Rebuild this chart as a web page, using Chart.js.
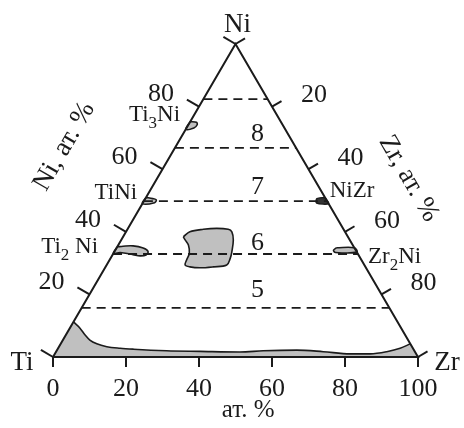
<!DOCTYPE html>
<html>
<head>
<meta charset="utf-8">
<script src="https://cdn.jsdelivr.net/npm/chart.js@4"></script>
<style>
  html, body { margin: 0; padding: 0; background: #fff; }
</style>
</head>
<body>
<canvas id="diagram" width="464" height="428"></canvas>
<script>
  // Ti–Ni–Zr section, every point is a composition [Ni, Zr] in at.%
  const vertexNames = ['Ti', 'Zr', 'Ni'];
  const vertexComp = [[0, 0], [0, 100], [100, 0]];
  const edgeTicks = [0, 20, 40, 60, 80, 100];
  const edgeLabels = [20, 40, 60, 80];
  const bottomTicks = [0, 20, 40, 60, 80, 100];

  const tieLineNi = [82.4, 66.8, 49.8, 32.9, 15.7];
  const regionNames = ['8', '7', '6', '5'];
  const regionNi = [71.2, 54.3, 36.4, 21.4];
  const regionZr = [20.4, 28.9, 37.8, 45.3];

  // (Ti,Zr) solid solution boundary along the Ni-poor side
  const solidSolution = [
    [11.2, 0], [9.2, 2.8], [7.0, 5.3], [5.4, 7.4], [4.2, 9.9], [3.3, 13.1],
    [2.8, 17.0], [2.5, 20.8], [2.0, 30.1], [1.8, 39.4], [1.6, 50.4], [2.0, 56.6],
    [2.2, 65.7], [1.7, 73.2], [1.0, 80.9], [1.0, 86.4], [1.7, 90.6], [2.8, 93.7],
    [4.2, 95.8]
  ];
  const ternaryPhase = [
    [38.4, 16.5], [40.0, 17.5], [40.8, 20.8], [41.1, 24.3], [40.8, 27.6], [40.0, 29.0],
    [37.4, 30.7], [33.6, 32.2], [31.5, 32.8], [29.4, 32.9], [28.8, 29.5], [28.5, 26.0],
    [28.8, 23.1], [29.4, 21.5], [31.0, 21.1], [33.1, 20.8], [35.8, 19.2], [37.4, 17.5],
    [38.4, 16.5]
  ];
  const ti2niPhase = [
    [35.2, 0], [35.4, 1.5], [35.5, 4.2], [34.8, 7.3], [33.7, 9.2], [32.6, 9.2],
    [32.3, 7.7], [32.7, 5.6], [33.4, 1.7], [33.0, 0], [35.2, 0]
  ];
  const zr2niPhase = [
    [34.9, 60.2], [34.9, 65.1], [33.5, 66.5], [33.4, 60.7], [34.1, 59.8], [34.9, 60.2]
  ];
  const ti3niPhase = [[75.2, 0], [75.0, 1.8], [74.2, 2.4], [73.2, 2.0], [72.8, 0], [75.2, 0]];
  const tiniPhase = [[51.0, 0], [50.6, 2.0], [50.2, 3.2], [49.3, 3.2], [49.0, 0], [51.0, 0]];
  const nizrPhase = [[51.0, 49.0], [50.6, 47.0], [49.2, 47.6], [49.0, 51.0], [51.0, 49.0]];

  const compounds = [
    { parts: ['Ti', '3', 'Ni'], at: [74, 0], dx: -8, dy: -4, align: 'right' },
    { parts: ['TiNi'], at: [50, 0], dx: -7, dy: -1.5, align: 'right' },
    { parts: ['Ti', '2', ' Ni'], at: [34, 0], dx: -17, dy: 2.5, align: 'right' },
    { parts: ['NiZr'], at: [50, 50], dx: 3, dy: -3.5, align: 'left' },
    { parts: ['Zr', '2', 'Ni'], at: [34, 66], dx: 12, dy: 12, align: 'left' }
  ];

  const xy = ([ni, zr]) => ({ x: zr + ni / 2, y: ni });
  const ink = '#1b1b1b';
  const grey = '#c0c0c0';
  const serif = '"Liberation Serif", "DejaVu Serif", serif';

  const datasets = [];
  datasets.push({
    data: [vertexComp[0], vertexComp[1], vertexComp[2], vertexComp[0]].map(xy),
    borderColor: ink, borderWidth: 2, fill: false
  });
  tieLineNi.forEach(ni => {
    datasets.push({
      data: [xy([ni, 0]), xy([ni, 100 - ni])],
      borderColor: ink, borderWidth: 1.8, borderDash: [9, 6], fill: false
    });
  });
  [ti3niPhase, tiniPhase, ti2niPhase, ternaryPhase, zr2niPhase].forEach(shape => {
    datasets.push({
      data: shape.map(xy), borderColor: ink, borderWidth: 1.6,
      backgroundColor: grey, fill: 'shape', tension: 0.35
    });
  });
  datasets.push({
    data: nizrPhase.map(xy), borderColor: ink, borderWidth: 1.4,
    backgroundColor: '#333', fill: 'shape', tension: 0.3
  });
  datasets.push({
    data: solidSolution.map(xy), borderColor: ink, borderWidth: 1.6,
    backgroundColor: grey, fill: 'origin', cubicInterpolationMode: 'monotone'
  });
  // corners between the triangle vertices and the ends of the boundary
  const ss = solidSolution.map(xy);
  const n = ss.length;
  datasets.push({
    data: [xy(vertexComp[0]), ss[0], { x: ss[1].x, y: 0 }, xy(vertexComp[0])],
    borderWidth: 0, backgroundColor: grey, fill: 'shape'
  });
  datasets.push({
    data: [{ x: ss[n - 2].x, y: 0 }, ss[n - 1], xy(vertexComp[1]), { x: ss[n - 2].x, y: 0 }],
    borderWidth: 0, backgroundColor: grey, fill: 'shape'
  });
  datasets.forEach(d => { d.showLine = true; d.pointRadius = 0; d.clip = false; });

  function drawParts(ctx, parts, x, y, align) {
    const big = '23px ' + serif, small = '17px ' + serif;
    const widths = parts.map((p, i) => {
      ctx.font = i === 1 ? small : big;
      return ctx.measureText(p).width;
    });
    const total = widths.reduce((a, b) => a + b, 0);
    let cx = align === 'right' ? x - total : x;
    parts.forEach((p, i) => {
      ctx.font = i === 1 ? small : big;
      ctx.fillText(p, cx, i === 1 ? y + 7 : y);
      cx += widths[i];
    });
  }

  const ternaryDecor = {
    id: 'ternaryDecor',
    afterDatasetsDraw(chart) {
      const { ctx, scales: { x, y } } = chart;
      const P = (ni, zr) => [x.getPixelForValue(zr + ni / 2), y.getPixelForValue(ni)];
      const [tix, tiy] = P(0, 0), [zrx, zry] = P(0, 100), [nix, niy] = P(100, 0);
      let lx = nix - tix, ly = niy - tiy, L = Math.hypot(lx, ly);
      const nl = [ly / L, -lx / L];
      lx = nix - zrx; ly = niy - zry; L = Math.hypot(lx, ly);
      const nr = [-ly / L, lx / L];

      ctx.save();
      ctx.strokeStyle = ink;
      ctx.fillStyle = ink;
      ctx.lineWidth = 2;
      ctx.textAlign = 'center';
      ctx.textBaseline = 'middle';
      ctx.font = '26px ' + serif;

      // Ni axis on the left edge, Zr axis on the right edge
      edgeTicks.forEach(t => {
        let [px, py] = P(t, 0);
        ctx.beginPath(); ctx.moveTo(px, py); ctx.lineTo(px + nl[0] * 14, py + nl[1] * 14); ctx.stroke();
        if (edgeLabels.includes(t)) ctx.fillText(String(t), px - 38, py - 12);
        [px, py] = P(100 - t, t);
        ctx.beginPath(); ctx.moveTo(px, py); ctx.lineTo(px + nr[0] * 11, py + nr[1] * 11); ctx.stroke();
        if (edgeLabels.includes(t)) ctx.fillText(String(t), px + 42, py - 11);
      });

      // region numbers
      regionNames.forEach((n, i) => {
        const [px, py] = P(regionNi[i], regionZr[i]);
        ctx.fillText(n, px, py);
      });

      // pure components
      ctx.font = '27px ' + serif;
      ctx.fillText(vertexNames[0], tix - 31, tiy + 6);
      ctx.fillText(vertexNames[1], zrx + 29, zry + 6);
      ctx.fillText(vertexNames[2], nix + 2, niy - 19);

      // axis names
      ctx.save();
      const [lmx, lmy] = P(50, 0);
      ctx.translate(lmx - 80, lmy - 54);
      ctx.rotate(-Math.PI / 3);
      ctx.fillText('Ni, ат. %', 0, 0);
      ctx.restore();
      ctx.save();
      const [rmx, rmy] = P(50, 50);
      ctx.translate(rmx + 82, rmy - 22);
      ctx.rotate(Math.PI / 3);
      ctx.fillText('Zr, ат. %', 0, 0);
      ctx.restore();
      ctx.font = '25px ' + serif;
      ctx.fillText('ат. %', x.getPixelForValue(53.5), 410);

      // compound labels
      ctx.textBaseline = 'alphabetic';
      ctx.textAlign = 'left';
      compounds.forEach(c => {
        const [px, py] = P(c.at[0], c.at[1]);
        drawParts(ctx, c.parts, px + c.dx, py + c.dy, c.align);
      });
      ctx.restore();
    }
  };

  new Chart(document.getElementById('diagram'), {
    type: 'scatter',
    data: { datasets },
    options: {
      responsive: false,
      animation: false,
      events: [],
      layout: { padding: { left: 53, right: 46, top: 0, bottom: 0 } },
      plugins: { legend: { display: false }, tooltip: { enabled: false } },
      scales: {
        x: {
          type: 'linear', min: 0, max: 100,
          afterBuildTicks: (scale) => { scale.ticks = bottomTicks.map(v => ({ value: v })); },
          afterFit: (scale) => { scale.height = 71; },
          grid: { drawOnChartArea: false, color: ink, lineWidth: 2, tickLength: 10 },
          border: { display: true, color: ink, width: 2 },
          ticks: { color: ink, padding: 7, maxRotation: 0, font: { family: serif, size: 26 } }
        },
        y: { type: 'linear', min: 0, max: 357 / 3.13, display: false }
      }
    },
    plugins: [ternaryDecor]
  });
</script>
</body>
</html>
